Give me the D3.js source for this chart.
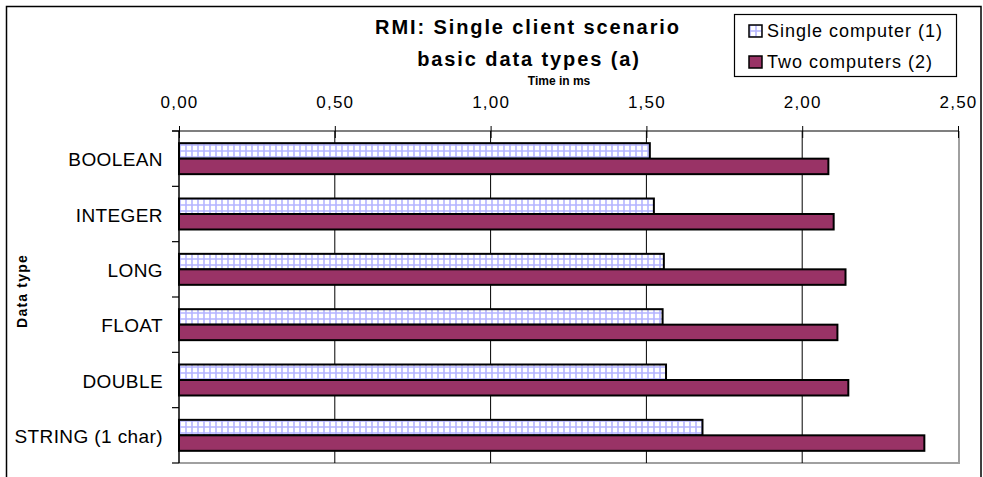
<!DOCTYPE html>
<html><head><meta charset="utf-8">
<script src="https://cdn.jsdelivr.net/npm/d3@7"></script>
<style>
body{margin:0;background:#fff;}
svg{display:block;font-family:"Liberation Sans",Arial,sans-serif;}
</style></head>
<body><svg id="c" width="983" height="477"></svg>
<script>
const categories = ["BOOLEAN","INTEGER","LONG","FLOAT","DOUBLE","STRING (1 char)"];
const seriesNames = ["Single computer (1)","Two computers (2)"];
const singleComputer = [1.511,1.524,1.556,1.552,1.563,1.680];
const twoComputers = [2.084,2.101,2.139,2.113,2.148,2.392];
const tickValues = [0,0.5,1.0,1.5,2.0,2.5];
const titleLines = ["RMI: Single client scenario","basic data types (a)"];

const svg = d3.select("#c");
const W = 983, H = 477;
const L = 179, R = 958, T = 131, B = 463;

// pattern
const defs = svg.append("defs");
const pat = defs.append("pattern").attr("id","grid").attr("patternUnits","userSpaceOnUse")
  .attr("width",6).attr("height",6).attr("x",L).attr("y",0);
pat.append("rect").attr("width",6).attr("height",6).attr("fill","#fff");
pat.append("path").attr("d","M1,0V6M0,1H6").attr("stroke","#b4b4ff").attr("stroke-width",1.6).attr("fill","none");

// outer frame
svg.append("rect").attr("x",6.5).attr("y",6.5).attr("width",974.5).attr("height",480)
  .attr("fill","#fff").attr("stroke","#000").attr("stroke-width",1.5);

const x = d3.scaleLinear().domain([0,2.5]).range([L,R]);
const y = d3.scaleBand().domain(categories).range([T,B]).paddingInner(0.44).paddingOuter(0.22);
const yi = d3.scaleBand().domain(seriesNames).range([0,y.bandwidth()]);
const step = y.step();

// plot border (gray right & bottom)
svg.append("path").attr("d",`M${R+1},${T}V${B}H${L}`).attr("fill","none").attr("stroke","#a0a0a0").attr("stroke-width",2);

// gridlines
svg.append("g").selectAll("line").data(tickValues.slice(1,-1)).join("line")
  .attr("x1",d=>x(d)).attr("x2",d=>x(d)).attr("y1",T).attr("y2",B)
  .attr("stroke","#000").attr("stroke-width",1);

// top axis
const xAxis = d3.axisTop(x).tickValues(tickValues).tickSizeInner(6).tickSizeOuter(0)
  .tickFormat(d=>d.toFixed(2).replace(".",","));
const gx = svg.append("g").attr("transform",`translate(0,${T})`).call(xAxis);
gx.select(".domain").remove();
gx.append("line").attr("x1",L-7).attr("x2",R+1).attr("y1",0).attr("y2",0).attr("stroke","#000").attr("stroke-width",1.2);
gx.selectAll(".tick line").attr("y2",-5).attr("y1",7).attr("stroke","#000");
gx.selectAll(".tick text").attr("y",-23).attr("font-size",17).attr("letter-spacing",1.2)
  .attr("font-family","Liberation Sans, Arial, sans-serif").attr("fill","#000");

// left axis
svg.append("line").attr("x1",L).attr("x2",L).attr("y1",T).attr("y2",B).attr("stroke","#000").attr("stroke-width",1.5);
svg.append("g").selectAll("line").data(d3.range(categories.length+1)).join("line")
  .attr("x1",L-7).attr("x2",L).attr("y1",i=>T+i*step).attr("y2",i=>T+i*step)
  .attr("stroke","#000").attr("stroke-width",1.2);

// category labels
svg.append("g").selectAll("text").data(categories).join("text")
  .attr("x",163).attr("y",d=>y(d)+y.bandwidth()/2+1).attr("dy","0.35em")
  .attr("text-anchor","end").attr("font-size",19).attr("letter-spacing",0.4).text(d=>d);

// bars
const rows = categories.map((c,i)=>({c, vals:[singleComputer[i],twoComputers[i]]}));
const g = svg.append("g");
rows.forEach(r=>{
  r.vals.forEach((v,j)=>{
    g.append("rect").attr("x",x(0)).attr("y",y(r.c)+yi(seriesNames[j]))
      .attr("width",x(v)-x(0)).attr("height",yi.bandwidth())
      .attr("fill", j===0 ? "url(#grid)" : "#993366")
      .attr("stroke","#000").attr("stroke-width",2);
  });
});

// titles
svg.append("text").attr("x",528).attr("y",34).attr("text-anchor","middle").attr("font-weight","bold")
  .attr("font-size",20).attr("letter-spacing",1.9).text(titleLines[0]);
svg.append("text").attr("x",529).attr("y",66).attr("text-anchor","middle").attr("font-weight","bold")
  .attr("font-size",20).attr("letter-spacing",1.9).text(titleLines[1]);
svg.append("text").attr("x",559).attr("y",85).attr("text-anchor","middle").attr("font-weight","bold")
  .attr("font-size",12).text("Time in ms");
svg.append("text").attr("transform","translate(27,291) rotate(-90)").attr("text-anchor","middle")
  .attr("font-weight","bold").attr("font-size",14).attr("letter-spacing",1.2).text("Data type");

// legend
const lg = svg.append("g");
lg.append("rect").attr("x",734.5).attr("y",14.5).attr("width",222).attr("height",62)
  .attr("fill","#fff").attr("stroke","#000").attr("stroke-width",1.2);
seriesNames.forEach((s,j)=>{
  const cy = 31 + j*31;
  lg.append("rect").attr("x",749).attr("y",cy-6).attr("width",13).attr("height",12)
    .attr("fill", j===0 ? "url(#grid)" : "#993366").attr("stroke","#000").attr("stroke-width",1.5);
  lg.append("text").attr("x",767).attr("y",cy).attr("dy","0.36em").attr("font-size",18)
    .attr("letter-spacing",1).text(s);
});
</script></body></html>
